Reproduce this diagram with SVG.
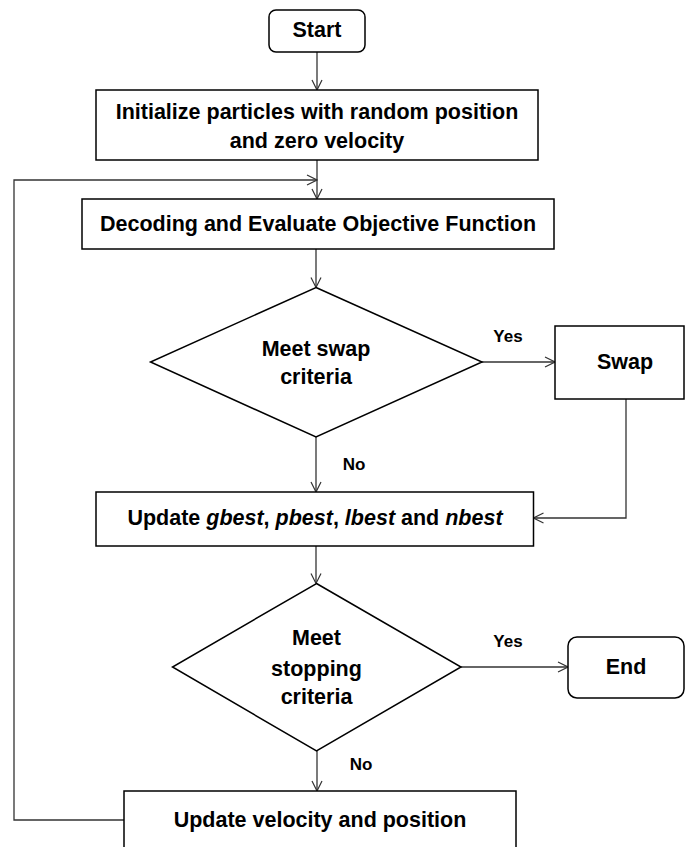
<svg xmlns="http://www.w3.org/2000/svg" width="685" height="847" viewBox="0 0 685 847">
<style>
.box{fill:#fff;stroke:#000;stroke-width:1.5}
.t{font-family:"Liberation Sans",Arial,sans-serif;font-weight:bold;font-size:21.5px;fill:#000;text-anchor:middle}
.lbl{font-family:"Liberation Sans",Arial,sans-serif;font-weight:bold;font-size:17px;fill:#000;text-anchor:middle}
.c{fill:none;stroke:#333;stroke-width:1.3}
</style>
<defs>
<marker id="arr" markerUnits="userSpaceOnUse" markerWidth="12" markerHeight="12" viewBox="0 0 12 12" refX="11" refY="6" orient="auto">
<path d="M1,1 L11,6 L1,11" fill="none" stroke="#333" stroke-width="1.2"/>
</marker>
</defs>
<rect width="685" height="847" fill="#fff"/>
<g id="connectors">
<path class="c" d="M317,52 V90" marker-end="url(#arr)"/>
<path class="c" d="M317,160 V199" marker-end="url(#arr)"/>
<path class="c" d="M316,249 V287.5" marker-end="url(#arr)"/>
<path class="c" d="M482,362 H555" marker-end="url(#arr)"/>
<path class="c" d="M316,437 V492" marker-end="url(#arr)"/>
<path class="c" d="M626,399 V518 H533.5" marker-end="url(#arr)"/>
<path class="c" d="M316,546 V583.5" marker-end="url(#arr)"/>
<path class="c" d="M461,667 H568" marker-end="url(#arr)"/>
<path class="c" d="M317,751 V791" marker-end="url(#arr)"/>
<path class="c" d="M124,820 H14 V180 H317" marker-end="url(#arr)"/>
<text class="lbl" x="508" y="342">Yes</text>
<text class="lbl" x="354" y="470">No</text>
<text class="lbl" x="508" y="647">Yes</text>
<text class="lbl" x="361" y="770">No</text>
</g>
<g id="start">
<rect class="box" x="269" y="10" width="96" height="42" rx="7"/>
<text class="t" x="317" y="37">Start</text>
</g>
<g id="init">
<rect class="box" x="96" y="90" width="442" height="70"/>
<text class="t" x="317" y="119">Initialize particles with random position</text>
<text class="t" x="317" y="148">and zero velocity</text>
</g>
<g id="decode">
<rect class="box" x="82" y="199" width="472" height="50"/>
<text class="t" x="318" y="231">Decoding and Evaluate Objective Function</text>
</g>
<g id="swapcheck">
<polygon class="box" points="316,287.5 482,362 316,437 150.5,362"/>
<text class="t" x="316" y="356">Meet swap</text>
<text class="t" x="316" y="384">criteria</text>
</g>
<g id="swap">
<rect class="box" x="555" y="326" width="129" height="73"/>
<text class="t" x="625" y="369">Swap</text>
</g>
<g id="updatebest">
<rect class="box" x="96" y="492" width="437.5" height="54"/>
<text class="t" x="315" y="525">Update <tspan font-style="italic">gbest</tspan>, <tspan font-style="italic">pbest</tspan>, <tspan font-style="italic">lbest</tspan> and <tspan font-style="italic">nbest</tspan></text>
</g>
<g id="stopcheck">
<polygon class="box" points="316.5,583.5 461,667 316.5,751 172.5,667"/>
<text class="t" x="316.5" y="645">Meet</text>
<text class="t" x="316.5" y="676">stopping</text>
<text class="t" x="316.5" y="704">criteria</text>
</g>
<g id="end">
<rect class="box" x="568" y="637" width="116" height="61" rx="9"/>
<text class="t" x="626" y="674">End</text>
</g>
<g id="updatevel">
<rect class="box" x="124" y="791" width="392" height="70"/>
<text class="t" x="320" y="827">Update velocity and position</text>
</g>
</svg>
